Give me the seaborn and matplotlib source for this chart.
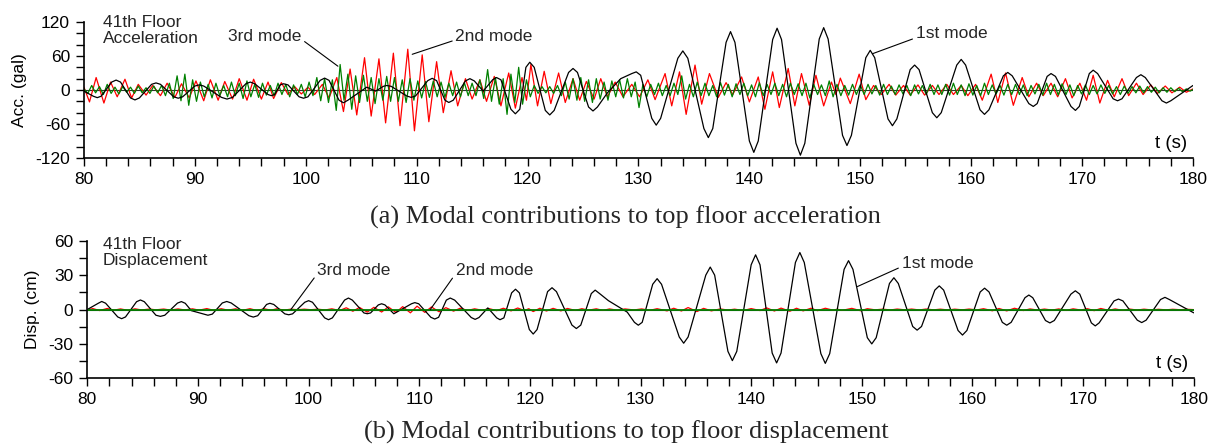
"""Modal contributions to top floor response (41th floor)"""
import matplotlib.pyplot as plt
import seaborn as sns
from matplotlib import font_manager
from matplotlib.ticker import MultipleLocator

# ---- 1st mode (black): extrema and shoulders ----
black_acc_t = [80.0,
               80.85, 81.2, 81.55, 82.5, 82.9, 83.3, 84.2, 84.6, 85.0,
               86.1, 86.5, 86.9, 88.1, 88.5, 88.9, 90.0, 90.4, 90.8,
               92.4, 92.9, 93.4, 94.6, 95.0, 95.4, 96.6, 96.9, 97.2,
               97.7, 98.0, 98.4, 99.4, 99.8, 100.2, 101.3, 101.7, 102.1,
               103.0, 103.4, 103.8, 105.5, 106.3,
               107.0, 107.3, 107.7, 109.1, 109.5, 109.9, 111.0, 111.4, 111.8,
               112.55, 112.9, 113.3, 114.4, 114.8, 115.2, 116.0,
               116.85, 117.2, 117.6, 118.5, 118.9, 119.3, 119.85, 120.2, 120.6,
               121.6, 122.0, 122.4, 123.7, 124.1, 124.5, 125.5, 125.9, 126.3,
               127.2, 128.4, 129.4, 129.8, 130.2,
               131.2, 131.6, 132.0, 133.55, 134.0, 134.45, 135.9, 136.3, 136.7,
               137.9, 138.3, 138.7, 140.0, 140.4, 140.8, 142.1, 142.5, 142.9,
               144.2, 144.6, 145.0, 146.3, 146.7, 147.1, 148.4, 148.8, 149.2,
               150.5, 150.9, 151.3, 152.5, 152.9, 153.3, 154.5, 154.9, 155.3,
               156.5, 156.9, 157.3, 158.7, 159.1, 159.5, 160.8, 161.2, 161.6,
               162.9, 163.3, 163.7, 165.2, 165.6, 165.95, 166.85, 167.2, 167.6,
               169.0, 169.4, 169.75, 170.65, 171.0, 171.4, 172.8, 173.2, 173.6,
               174.9, 175.3, 175.7, 177.2, 177.6, 178.0,
               180.0]
black_acc_v = [-2,
               -11, -13.5, -11, 14, 17.5, 14, -14, -17.5, -14,
               10, 12.5, 10, -12, -14.5, -12, 7, 9, 7,
               -13, -16, -13, 11, 14, 11, -8, -10, -8,
               9, 11, 9, -12, -14.5, -12, 17, 21, 17,
               -18, -22.5, -18, 5, -2,
               6.5, 8, 6.5, -10.5, -13, -10.5, 16.5, 20.6, 16.5,
               -18, -22, -18, 16, 20, 16, -2,
               18, 22, 18, -34, -42, -34, 40, 49, 40,
               -36, -44, -36, 31, 38, 31, -30, -37, -30,
               -5, 20, 29, 32, 26,
               -50, -62, -50, 56, 69, 56, -68, -84, -68,
               84, 103, 84, -90, -110, -90, 89, 109, 89,
               -94, -115, -94, 90, 110, 90, -80, -98, -80,
               57, 70, 57, -51, -63, -51, 36, 44, 36,
               -40, -49, -40, 44, 54, 44, -35, -43, -35,
               25, 31, 25, -24, -29, -24, 24, 29, 24,
               -29, -36, -29, 29, 35, 29, -15.5, -19, -15.5,
               22, 27, 22, -19, -23, -19,
               8]

black_disp_t = [80.0,
                81.0, 81.3, 81.65, 82.75, 83.1, 83.45, 84.45, 84.8, 85.15,
                86.2, 86.6, 87.0, 88.15, 88.5, 88.85, 89.4,
                90.5, 90.9, 91.3, 92.2, 92.6, 93.0, 94.6, 95.0, 95.4,
                96.2, 96.5, 96.85, 97.85, 98.2, 98.55, 99.65, 100.0, 100.35,
                101.45, 101.8, 102.15, 103.25, 103.6, 103.95, 105.0, 105.3, 105.6,
                106.3, 106.6, 106.9, 107.7,
                109.3, 109.6, 109.95, 111.05, 111.4, 111.75, 112.45, 112.8, 113.2,
                114.7, 115.05, 115.4, 116.2,
                117.0, 117.3, 117.65, 118.35, 118.7, 119.05, 119.95, 120.3, 120.65,
                121.6, 122.0, 122.4, 123.8, 124.2, 124.6, 125.55, 125.9, 126.3,
                127.1, 128.8,
                129.45, 129.8, 130.15, 131.1, 131.5, 131.9, 133.5, 133.9, 134.3,
                135.9, 136.3, 136.7, 137.9, 138.3, 138.7, 140.0, 140.4, 140.8,
                141.9, 142.3, 142.7, 144.0, 144.4, 144.8, 146.3, 146.7, 147.1,
                148.4, 148.8, 149.2, 150.5, 150.9, 151.3, 152.5, 152.9, 153.3,
                154.6, 155.0, 155.4, 156.6, 157.0, 157.4, 158.7, 159.1, 159.5,
                160.7, 161.1, 161.5, 162.7, 163.1, 163.5, 164.75, 165.1, 165.45,
                166.6, 167.0, 167.4, 168.9, 169.3, 169.7, 170.75, 171.1, 171.45,
                172.8, 173.2, 173.6, 174.9, 175.3, 175.7, 177.0, 177.4, 177.8,
                180.0]
black_disp_v = [0,
                5.5, 7, 5.5, -6.5, -8, -6.5, 6.8, 8.3, 6.8,
                -5, -6, -5, 5.6, 6.9, 5.4, -1,
                -4, -5, -4, 5.7, 7, 5.7, -5.4, -6.6, -5.4,
                4.4, 5.4, 4.4, -3.8, -4.6, -3.8, 6.3, 7.7, 6.3,
                -7.3, -8.9, -7.3, 8.2, 10, 8.2, -3, -3.7, -3,
                4, 5, 4, -3.7,
                5, 6, 5, -6.8, -8.3, -6.8, 8.2, 10, 8.2,
                -7, -8.6, -7, 1.4,
                -7.3, -8.9, -7.3, 14.5, 17.7, 14.5, -17.5, -21.4, -17.5,
                15.6, 19, 15.6, -13.6, -16.6, -13.6, 13.9, 16.9, 13.9,
                7.7, -2.3,
                -11.2, -13.7, -11.2, 22, 26.9, 22, -24, -29.4, -24,
                30, 37, 30, -36.5, -44.6, -36.5, 39, 47.7, 39,
                -38, -46.6, -38, 41, 49.7, 41, -38.5, -47, -38.5,
                35, 42.6, 35, -24.6, -30, -24.6, 22.7, 27.7, 22.7,
                -14.8, -18, -14.8, 16.9, 20.6, 16.9, -18.3, -22.3, -18.3,
                15.3, 18.6, 15.3, -11.2, -13.7, -11.2, 10.3, 12.6, 10.3,
                -9.6, -11.7, -9.6, 13.4, 16.3, 13.4, -11.7, -14.3, -11.7,
                7.5, 9.1, 7.5, -9.3, -11.4, -9.3, 8.7, 10.6, 8.7,
                -2.9]

# ---- 2nd mode (red) ----
red_t = [80.0, 80.5, 81.1, 81.8, 82.4, 83.0, 83.7, 84.3, 84.9, 85.6,
         86.2, 86.9, 87.5, 88.2, 88.8, 89.5, 90.1, 90.8, 91.4, 92.1,
         92.7, 93.4, 94.0, 94.7, 95.3, 96.0, 96.6, 97.1, 97.8, 98.4,
         99.0, 99.6, 100.2, 100.8, 101.5, 102.1, 102.8, 103.4, 104.0, 104.6,
         105.3, 105.9, 106.6, 107.2, 107.9, 108.5, 109.2, 109.8, 110.5, 111.1,
         111.8, 112.4, 113.1, 113.7, 114.4, 115.0, 115.7, 116.3, 117.0, 117.6,
         118.3, 118.9, 119.5, 119.9, 120.3, 120.9, 121.5, 122.1, 122.8, 123.4,
         124.1, 124.7, 125.3, 126.0, 126.6, 127.2, 127.9, 128.6, 129.4, 130.1,
         130.85, 131.5, 132.4, 133.0, 133.7, 134.3, 135.1, 135.7, 136.4, 137.2,
         137.9, 138.5, 139.3, 140.0, 140.8, 141.4, 142.1, 142.7, 143.5, 144.1,
         144.7, 145.4, 146.0, 146.7, 147.4, 147.8, 148.2, 149.1, 149.9, 150.5,
         151.2, 151.9, 152.6, 153.2, 153.9, 154.5, 155.2, 155.8, 156.5, 157.1,
         157.8, 158.4, 159.1, 159.7, 160.4, 161.0, 161.8, 162.4, 163.1, 163.8,
         164.6, 165.2, 165.9, 166.5, 167.2, 167.8, 168.5, 169.1, 169.8, 170.4,
         171.0, 171.6, 172.3, 172.9, 173.6, 174.2, 174.9, 175.5, 176.2, 176.8,
         177.5, 178.1, 178.8, 179.4, 180.0]
red_acc_v = [5, -21, 22, -23, 14, -12, 19, -14, 10, -9,
             8, -10, 12, -13, 11, -14, 16, -19, 18, -18,
             15, -16, 20, -18, 19, -16, 14, -15, 13, -8,
             6, -7, 5, -8, 10, -14, 22, -38, 37, -44,
             57, -46, 55, -58, 65, -63, 72, -72, 62, -56,
             50, -40, 34, -28, 20, -16, 18, -20, 24, -28,
             30, -32, 22, -18, 45, -28, 33, -24, 30, -22,
             20, -18, 15, -16, 20, -12, 14, -12, 10, -12,
             18, -17, 29, -28, 32, -43, 44, -25, 29, -13,
             13, -8, 23, -21, 23, -34, 32, -31, 38, -28,
             29, -27, 26, -28, 14, -8, 21, -24, 28, -17,
             8, -8, 10, -9, 8, -9, 9, -9, 8, -8,
             10, -8, 8, -10, 10, -18, 28, -22, 30, -27,
             22, -12, 12, -10, 12, -12, 20, -14, 12, -18,
             26, -23, 17, -12, 20, -10, 12, -8, 9, -6,
             7, -5, 5, -4, 2]
red_disp_v = [-0.3, 0.8, -0.9, 0.9, -0.6, 0.5, -0.8, 0.6, -0.4, 0.4,
              -0.3, 0.4, -0.5, 0.5, -0.4, 0.6, -0.6, 0.8, -0.7, 0.7,
              -0.6, 0.6, -0.8, 0.7, -0.8, 0.6, -0.6, 0.6, -0.5, 0.3,
              -0.2, 0.3, -0.2, 0.3, -0.4, 0.6, -0.9, 1.5, -1.5, 1.8,
              -2.3, 1.9, -2.2, 2.3, -2.6, 2.5, -2.9, 2.9, -2.5, 2.2,
              -2.0, 1.6, -1.4, 1.1, -0.8, 0.6, -0.7, 0.8, -1.0, 1.1,
              -1.2, 1.3, -0.9, 0.7, -1.8, 1.1, -1.3, 1.0, -1.2, 0.9,
              -0.8, 0.7, -0.6, 0.6, -0.8, 0.5, -0.6, 0.5, -0.4, 0.5,
              -0.7, 0.7, -1.2, 1.1, -1.3, 1.7, -1.8, 1.0, -1.2, 0.5,
              -0.5, 0.3, -0.9, 0.8, -0.9, 1.4, -1.3, 1.2, -1.5, 1.1,
              -1.2, 1.1, -1.0, 1.1, -0.6, 0.3, -0.8, 1.0, -1.1, 0.7,
              -0.3, 0.3, -0.4, 0.4, -0.3, 0.4, -0.4, 0.4, -0.3, 0.3,
              -0.4, 0.3, -0.3, 0.4, -0.4, 0.7, -1.1, 0.9, -1.2, 1.1,
              -0.9, 0.5, -0.5, 0.4, -0.5, 0.5, -0.8, 0.6, -0.5, 0.7,
              -1.0, 0.9, -0.7, 0.5, -0.8, 0.4, -0.5, 0.3, -0.4, 0.2,
              -0.3, 0.2, -0.2, 0.2, -0.1]

# ---- 3rd mode (green) ----
green_t = [80.0, 80.35, 80.7, 81.05, 81.4, 81.75, 82.1, 82.45, 82.8, 83.15,
           83.5, 83.85, 84.2, 84.55, 84.9, 85.25, 85.6, 85.95, 86.3, 86.65,
           87.0, 87.35, 87.7, 88.05, 88.4, 88.75, 89.1, 89.45, 89.8, 90.15,
           90.5, 90.85, 91.2, 91.55, 91.9, 92.25, 92.6, 92.95, 93.3, 93.65,
           94.0, 94.35, 94.7, 95.05, 95.4, 95.75, 96.1, 96.45, 96.8, 97.15,
           97.5, 97.85, 98.2, 98.55, 98.9, 99.25, 99.6, 99.95, 100.3, 100.65,
           101.0, 101.35, 101.7, 102.05, 102.4, 102.75, 103.1, 103.45, 103.8, 104.15,
           104.5, 104.85, 105.2, 105.55, 105.9, 106.25, 106.6, 106.95, 107.3, 107.65,
           108.0, 108.35, 108.7, 109.05, 109.4, 109.75, 110.1, 110.45, 110.8, 111.15,
           111.5, 111.85, 112.2, 112.55, 112.9, 113.25, 113.6, 113.95, 114.3, 114.65,
           115.0, 115.35, 115.7, 116.05, 116.4, 116.75, 117.1, 117.45, 117.8, 118.15,
           118.5, 118.85, 119.2, 119.55, 119.9, 120.25, 120.6, 120.95, 121.3, 121.65,
           122.0, 122.35, 122.7, 123.05, 123.4, 123.75, 124.1, 124.45, 124.8, 125.15,
           125.5, 125.85, 126.2, 126.55, 126.9, 127.25, 127.6, 127.95, 128.3, 128.65,
           129.0, 129.35, 129.7, 130.05, 130.4, 130.75, 131.1, 131.45, 131.8, 132.15,
           132.5, 132.85, 133.2, 133.55, 133.9, 134.25, 134.6, 134.95, 135.3, 135.65,
           136.0, 136.35, 136.7, 137.05, 137.4, 137.75, 138.1, 138.45, 138.8, 139.15,
           139.5, 139.85, 140.2, 140.55, 140.9, 141.25, 141.6, 141.95, 142.3, 142.65,
           143.0, 143.35, 143.7, 144.05, 144.4, 144.75, 145.1, 145.45, 145.8, 146.15,
           146.5, 146.85, 147.2, 147.55, 147.9, 148.25, 148.6, 148.95, 149.3, 149.65,
           150.0, 150.35, 150.7, 151.05, 151.4, 151.75, 152.1, 152.45, 152.8, 153.15,
           153.5, 153.85, 154.2, 154.55, 154.9, 155.25, 155.6, 155.95, 156.3, 156.65,
           157.0, 157.35, 157.7, 158.05, 158.4, 158.75, 159.1, 159.45, 159.8, 160.15,
           160.5, 160.85, 161.2, 161.55, 161.9, 162.25, 162.6, 162.95, 163.3, 163.65,
           164.0, 164.35, 164.7, 165.05, 165.4, 165.75, 166.1, 166.45, 166.8, 167.15,
           167.5, 167.85, 168.2, 168.55, 168.9, 169.25, 169.6, 169.95, 170.3, 170.65,
           171.0, 171.35, 171.7, 172.05, 172.4, 172.75, 173.1, 173.45, 173.8, 174.15,
           174.5, 174.85, 175.2, 175.55, 175.9, 176.25, 176.6, 176.95, 177.3, 177.65,
           178.0, 178.35, 178.7, 179.05, 179.4, 179.75, 180.0]
green_acc_v = [2, -6, 8, -5, 6, -8, 10, -6, 5, -7, 6, -4, 5, -6, 7, -5, 4, -6, 7, -5,
               8, -10, 12, -15, 25, -19, 28, -27, 18, -20, 14, -12, 10, -14, 12, -10, 8, -12, 14, -10,
               12, -15, 16, -12, 10, -13, 12, -9, 8, -10, 12, -8, 10, -12, 9, -8, 10, -12, 14, -10,
               22, -19, 20, -22, 18, -36, 45, -18, 28, -34, 25, -22, 26, -20, 22, -24, 20, -18, 24, -20,
               22, -20, 18, -22, 20, -18, 16, -14, 15, -13, 16, -12, 14, -13, 12, -10, 14, -12, 13, -10,
               12, -10, 18, -15, 36, -20, 22, -25, 20, -43, 28, -22, 40, -25, 18, -12, 8, -6, 6, -5,
               6, -6, 8, -10, 14, -16, 20, -18, 22, -20, 18, -22, 20, -16, 14, -18, 16, -12, 18, -14,
               20, -12, 14, -31, 10, -12, 10, -8, 12, -10, 8, -10, 12, -8, 25, -16, 10, -12, 14, -10,
               12, -10, 8, -12, 13, -9, 10, -12, 11, -8, 12, -10, 9, -12, 13, -10, 10, -8, 12, -10,
               10, -12, 12, -8, 11, -10, 12, -14, 10, -8, 9, -10, 16, -12, 10, -10, 8, -9, 10, -8,
               9, -8, 10, -7, 8, -9, 10, -8, 7, -8, 9, -7, 8, -10, 9, -7, 8, -8, 10, -8,
               9, -8, 10, -9, 12, -8, 9, -10, 11, -9, 8, -10, 12, -8, 9, -7, 8, -9, 10, -8,
               10, -8, 9, -10, 8, -7, 10, -9, 12, -8, 10, -9, 11, -8, 9, -10, 8, -7, 9, -8,
               8, -7, 9, -6, 8, -7, 6, -8, 7, -6, 6, -5, 7, -5, 6, -4, 5, -5, 4, -4,
               4, -3, 3, -3, 2, -2, 1]
green_disp_t = [80.0, 180.0]
green_disp_v = [0.0, 0.0]

# ---- styling ----
sns.set_theme(style="ticks")
names = {f.name for f in font_manager.fontManager.ttflist}
if "Liberation Sans Narrow" in names:
    SANS, FS = "Liberation Sans Narrow", 13.5
else:
    SANS, FS = "Liberation Sans", 12.5
plt.rcParams["font.family"] = [SANS, "DejaVu Sans"]
plt.rcParams["axes.unicode_minus"] = False

RED, GREEN, BLACK = "#ff0000", "#008000", "#000000"
LW = 0.9

fig = plt.figure(figsize=(12.13, 4.48), dpi=100)
ax_a = fig.add_axes([0.0692, 0.6473, 0.9143, 0.3036])
ax_d = fig.add_axes([0.0720, 0.1556, 0.9121, 0.3071])


def style_axis(ax, ylim, major, minor, ylabel):
    ax.set_xlim(80, 180)
    ax.set_ylim(*ylim)
    ax.set_facecolor("none")
    ax.xaxis.set_major_locator(MultipleLocator(10))
    ax.xaxis.set_minor_locator(MultipleLocator(2))
    ax.yaxis.set_major_locator(MultipleLocator(major))
    ax.yaxis.set_minor_locator(MultipleLocator(minor))
    ax.tick_params(which="both", direction="out", length=6, width=1.0,
                   color="black", labelsize=FS, labelcolor="black")
    ax.tick_params(axis="x", pad=4)
    ax.tick_params(axis="y", pad=4)
    for side in ("top", "right"):
        ax.spines[side].set_visible(False)
    for side in ("left", "bottom"):
        ax.spines[side].set_linewidth(1.2)
        ax.spines[side].set_color("black")
    ax.set_xlabel("")
    ax.set_ylabel(ylabel, fontsize=FS, color="black", labelpad=6)
    ax.axhline(0, color="#303030", lw=0.8, zorder=1.5)
    ax.text(0.9946, 0.11, "t (s)", transform=ax.transAxes, ha="right",
            va="center", fontsize=FS + 1, color="black")


# (a) acceleration
sns.lineplot(x=red_t, y=red_acc_v, estimator=None, sort=False, color=RED, lw=LW, ax=ax_a)
sns.lineplot(x=green_t, y=green_acc_v, estimator=None, sort=False, color=GREEN, lw=LW, ax=ax_a)
sns.lineplot(x=black_acc_t, y=black_acc_v, estimator=None, sort=False, color=BLACK, lw=LW, ax=ax_a)
style_axis(ax_a, (-120, 120), 60, 20, "Acc. (gal)")
ax_a.text(0.0171, 1.05, "41th Floor\nAcceleration", transform=ax_a.transAxes,
          ha="left", va="top", fontsize=FS, linespacing=1.1)

# (b) displacement
sns.lineplot(x=red_t, y=red_disp_v, estimator=None, sort=False, color=RED, lw=LW, ax=ax_d)
sns.lineplot(x=black_disp_t, y=black_disp_v, estimator=None, sort=False, color=BLACK, lw=LW, ax=ax_d)
sns.lineplot(x=green_disp_t, y=green_disp_v, estimator=None, sort=False, color=GREEN, lw=1.3, ax=ax_d)
style_axis(ax_d, (-60, 60), 30, 15, "Disp. (cm)")
ax_d.text(0.0142, 1.027, "41th Floor\nDisplacement", transform=ax_d.transAxes,
          ha="left", va="top", fontsize=FS, linespacing=1.1)

# mode labels with leader lines
arrow = dict(arrowstyle="-", color="black", lw=0.8, shrinkA=0, shrinkB=0)
ax_a.annotate("3rd mode", xy=(102.9, 42), xytext=(99.6, 95), ha="right", va="center",
              fontsize=FS, arrowprops={**arrow, "relpos": (1.0, 0.3)})
ax_a.annotate("2nd mode", xy=(109.6, 63), xytext=(113.5, 95), ha="left", va="center",
              fontsize=FS, arrowprops={**arrow, "relpos": (0.0, 0.25)})
ax_a.annotate("1st mode", xy=(151.1, 64), xytext=(155.0, 100), ha="left", va="center",
              fontsize=FS, arrowprops={**arrow, "relpos": (0.0, 0.2)})
ax_d.annotate("3rd mode", xy=(98.4, 0), xytext=(100.8, 34), ha="left", va="center",
              fontsize=FS, arrowprops={**arrow, "relpos": (0.0, 0.3)})
ax_d.annotate("2nd mode", xy=(111.0, 0), xytext=(113.3, 34), ha="left", va="center",
              fontsize=FS, arrowprops={**arrow, "relpos": (0.0, 0.3)})
ax_d.annotate("1st mode", xy=(149.6, 20), xytext=(153.6, 40), ha="left", va="center",
              fontsize=FS, arrowprops={**arrow, "relpos": (0.0, 0.3)})

# captions
serif = ["Liberation Serif", "DejaVu Serif"]
fig.text(0.516, 0.516, "(a) Modal contributions to top floor acceleration",
         ha="center", va="center", fontsize=19, family=serif)
fig.text(0.516, 0.034, "(b) Modal contributions to top floor displacement",
         ha="center", va="center", fontsize=19, family=serif)

fig.savefig("out.png", dpi=100)
